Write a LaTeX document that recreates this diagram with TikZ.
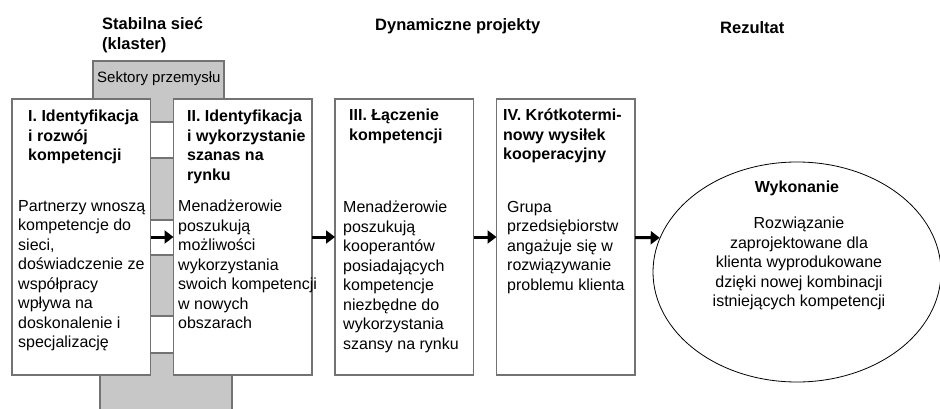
\documentclass[tikz,border=0pt]{standalone}
\usepackage{fontspec}
\setmainfont{Liberation Sans}
\usetikzlibrary{arrows.meta, positioning, shapes.geometric}

\begin{document}
\begin{tikzpicture}[x=1pt, y=-1pt,
  blok/.style={draw=black!55, line width=1.2pt, fill=white, minimum width=138.5pt, minimum height=276pt, inner sep=0pt, outer sep=0pt},
  tytul/.style={font=\fontsize{16}{19.5}\selectfont\bfseries, align=left, inner sep=0pt, anchor=north west},
  naglowek/.style={font=\fontsize{16.5}{20}\selectfont\bfseries, align=left, inner sep=0pt, anchor=north west},
  opis/.style={font=\fontsize{16}{19.5}\selectfont, align=left, inner sep=0pt, anchor=north west},
  strzalka/.style={line width=3pt, -{Triangle[length=9pt, width=13pt]}},
  szary/.style={draw=black!55, line width=1.2pt, fill=black!22},
  okienko/.style={draw=black!55, line width=1.2pt, fill=white}]
\useasboundingbox (0,0) rectangle (940,409);

% klaster w tle
\path[szary] (93,61) -- (224,61) -- (224,150) -- (190,150) -- (190,360) -- (232,360) -- (232,412)
  -- (100,412) -- (100,360) -- (135,360) -- (135,150) -- (93,150) -- cycle;
\node[font=\fontsize{15}{18}\selectfont, anchor=west, inner sep=0pt] (sektory) at (97,79) {Sektory przemysłu};
\foreach \g/\d in {122/158, 220/255, 316/353}
  \draw[okienko] (140,\g) rectangle (185,\d);

% naglowki
\node[naglowek] (h1) at (102,17) {Stabilna sieć\\(klaster)};
\node[naglowek] (h2) at (375,18) {Dynamiczne projekty};
\node[naglowek] (h3) at (720,21) {Rezultat};

% etapy
\node[blok, anchor=north west] (b1) at (12,99) {};
\node[blok, right=23pt of b1] (b2) {};
\node[blok, right=23pt of b2] (b3) {};
\node[blok, right=23pt of b3] (b4) {};

\node[tytul] (t1) at ([xshift=16pt, yshift=-11pt]b1.north west) {I. Identyfikacja\\i rozwój\\kompetencji};
\node[opis] (o1) at ([xshift=6pt, yshift=-101pt]b1.north west) {Partnerzy wnoszą\\kompetencje do\\sieci,\\doświadczenie ze\\współpracy\\wpływa na\\doskonalenie i\\specjalizację};

\node[tytul] (t2) at ([xshift=13.5pt, yshift=-11pt]b2.north west) {II. Identyfikacja\\i wykorzystanie\\szanas na\\rynku};
\node[opis] (o2) at ([xshift=4.5pt, yshift=-101pt]b2.north west) {Menadżerowie\\poszukują\\możliwości\\wykorzystania\\swoich kompetencji\\w nowych\\obszarach};

\node[tytul] (t3) at ([xshift=14pt, yshift=-10pt]b3.north west) {III. Łączenie\\kompetencji};
\node[opis] (o3) at ([xshift=8pt, yshift=-102pt]b3.north west) {Menadżerowie\\poszukują\\kooperantów\\posiadających\\kompetencje\\niezbędne do\\wykorzystania\\szansy na rynku};

\node[tytul] (t4) at ([xshift=6.5pt, yshift=-10pt]b4.north west) {IV. Krótkotermi-\\nowy wysiłek\\kooperacyjny};
\node[opis] (o4) at ([xshift=10.5pt, yshift=-102pt]b4.north west) {Grupa\\przedsiębiorstw\\angażuje się w\\rozwiązywanie\\problemu klienta};

% rezultat
\node[draw, ellipse, line width=0.8pt, minimum width=288pt, minimum height=220pt, inner sep=0pt] (e) at (797,272) {};
\node[tytul, anchor=north] (w) at (797,180.5) {Wykonanie};
\node[opis, align=center, anchor=north] (o5) at (799,217) {Rozwiązanie\\zaprojektowane dla\\klienta wyprodukowane\\dzięki nowej kombinacji\\istniejących kompetencji};

\draw[strzalka] (b1) -- (b2);
\draw[strzalka] (b2) -- (b3);
\draw[strzalka] (b3) -- (b4);
\draw[strzalka] (b4) -- (e.166);
\end{tikzpicture}
\end{document}
